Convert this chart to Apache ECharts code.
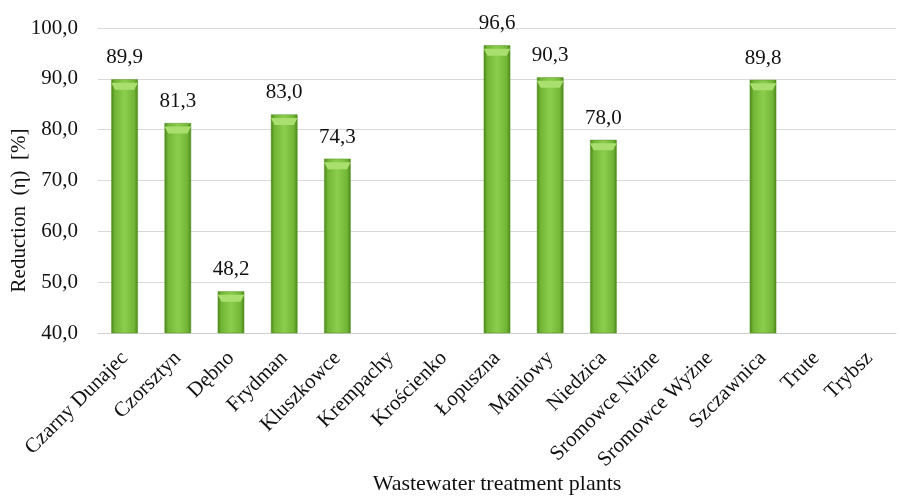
<!DOCTYPE html>
<html lang="en">
<head>
    <meta charset="UTF-8">
    <title>Reduction</title>
    <script src="https://cdn.jsdelivr.net/npm/echarts@6/dist/echarts.min.js"></script>
    <style>
        html, body { margin: 0; padding: 0; background: #fff; }
        #chart { width: 904px; height: 498px; }
    </style>
</head>
<body>
<div id="chart"></div>
<script type="text/javascript">
    var plants = ['Czarny Dunajec', 'Czorsztyn', 'Dębno', 'Frydman', 'Kluszkowce', 'Krempachy', 'Krościenko',
        'Łopuszna', 'Maniowy', 'Niedzica', 'Sromowce Niżne', 'Sromowce Wyżne', 'Szczawnica', 'Trute', 'Trybsz'];
    var reduction = [89.9, 81.3, 48.2, 83.0, 74.3, null, null, 96.6, 90.3, 78.0, null, null, 89.8, null, null];
    var yTicks = [40, 50, 60, 70, 80, 90, 100];

    var font = 'Liberation Serif';
    function fmt(v) {
        return v.toFixed(1).replace('.', ',');
    }

    var chart = echarts.init(document.getElementById('chart'));
    chart.setOption({
        animation: false,
        grid: { left: 98, right: 8, top: 28, bottom: 165, containLabel: false, outerBoundsMode: 'none' },
        xAxis: {
            type: 'category',
            data: plants,
            name: 'Wastewater treatment plants',
            nameLocation: 'middle',
            nameGap: 140,
            nameMoveOverlap: false,
            nameTextStyle: { fontFamily: font, fontSize: 22, color: '#111' },
            axisLine: { lineStyle: { color: '#cfcfcf' } },
            axisTick: { show: false },
            axisLabel: { rotate: 45, interval: 0, margin: 22, fontFamily: font, fontSize: 21, color: '#111' }
        },
        yAxis: {
            type: 'value',
            min: yTicks[0],
            max: yTicks[yTicks.length - 1],
            interval: 10,
            name: 'Reduction  (η)  [%]',
            nameLocation: 'middle',
            nameGap: 68,
            nameMoveOverlap: false,
            nameTextStyle: { fontFamily: font, fontSize: 21, color: '#111', padding: [0, 60, 0, 0] },
            axisLine: { show: false },
            axisTick: { show: false },
            splitLine: { lineStyle: { color: '#d9d9d9' } },
            axisLabel: {
                fontFamily: font, fontSize: 21, color: '#111', margin: 20,
                formatter: function (v) { return fmt(v); }
            }
        },
        series: [{
            type: 'bar',
            data: reduction,
            barWidth: '50%',
            itemStyle: {
                color: new echarts.graphic.LinearGradient(0, 0, 1, 0, [
                    { offset: 0, color: '#4a861a' },
                    { offset: 0.14, color: '#72b636' },
                    { offset: 0.5, color: '#8ccd4c' },
                    { offset: 0.86, color: '#72b636' },
                    { offset: 1, color: '#4a861a' }
                ]),
                borderColor: '#5a9626',
                borderWidth: 0.5
            },
            label: {
                show: true,
                position: 'top',
                distance: 11,
                fontFamily: font,
                fontSize: 21,
                color: '#111',
                formatter: function (p) { return fmt(p.value); }
            }
        }, {
            // light bevel on the top of each bar
            type: 'pictorialBar',
            data: reduction,
            barWidth: '50%',
            symbol: 'path://M0,0 L10,0 L8.6,3 L1.4,3 Z',
            symbolSize: ['100%', 7],
            symbolPosition: 'end',
            symbolOffset: [0, '50%'],
            barGap: '-100%',
            itemStyle: { color: '#aadf70' },
            z: 3,
            silent: true
        }]
    });
</script>
</body>
</html>
